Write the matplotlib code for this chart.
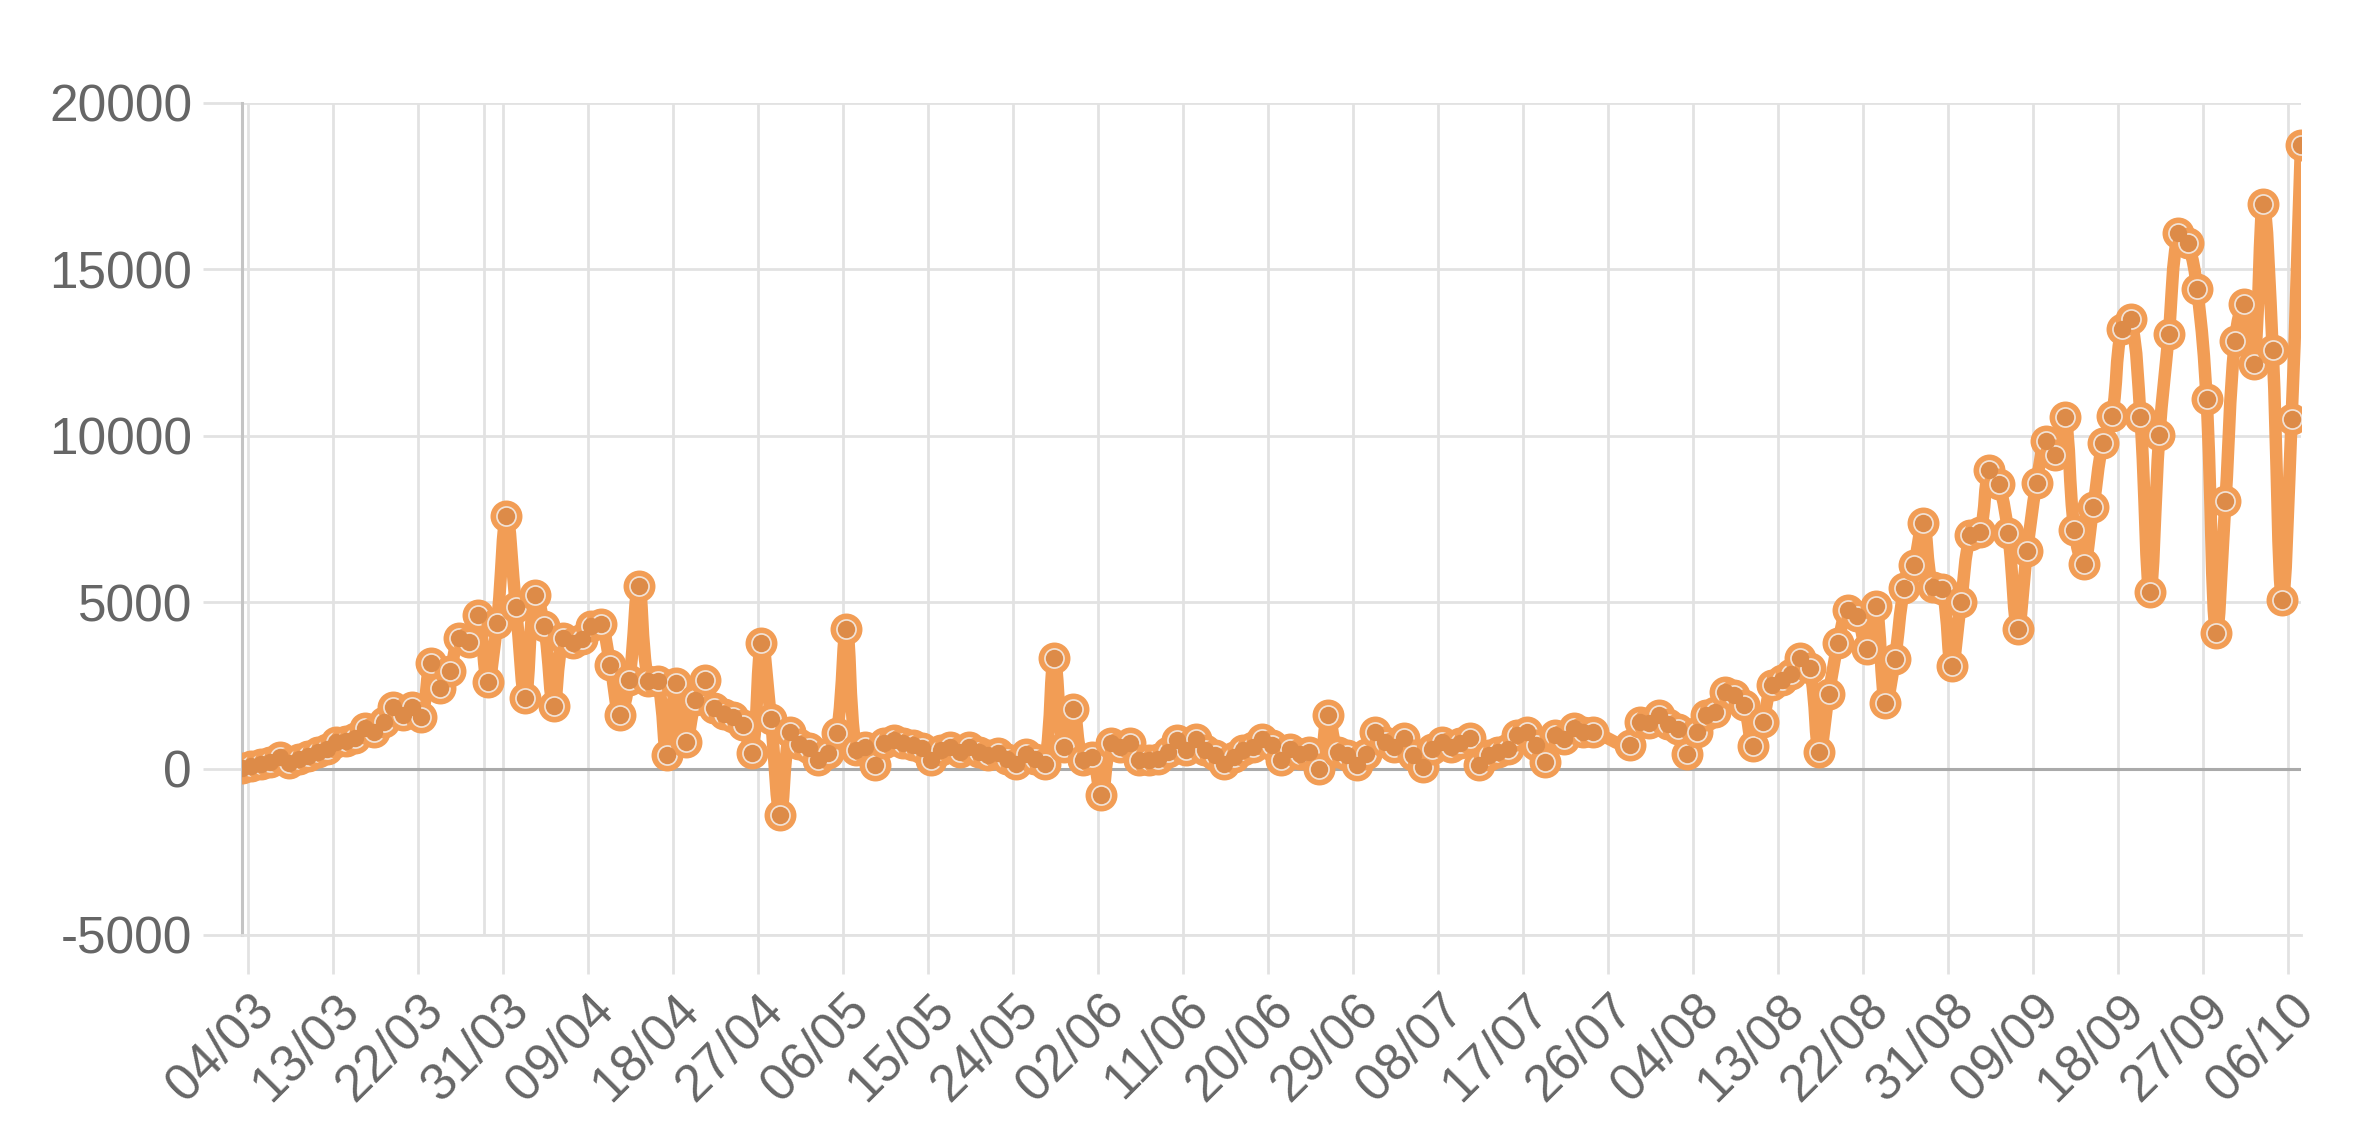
import matplotlib
matplotlib.use("Agg")
import matplotlib.pyplot as plt
import matplotlib.dates as mdates
from matplotlib.path import Path
from matplotlib.patches import PathPatch
import pandas as pd
import numpy as np

# daily values, 03/03 -> 07/10 (None = no point that day)
mar = [20, 70, 140, 190, 340, 180, 290, 370, 500, 600,
       790, 840, 920, 1210, 1100, 1400, 1860, 1620, 1850, 1560,
       3180, 2430, 2930, 3920, 3810, 4610, 2600, 4380, 7580]
apr = [4860, 2120, 5230, 4270, 1870, 3910, 3780, 3880, 4290, 4340,
       3110, 1610, 2670, 5500, 2630, 2640, 405, 2570, 785, 2050,
       2670, 1830, 1650, 1540, 1300, 470, 3780, 1480, -1400, 1100]
may = [750, 620, 260, 460, 1070, 4200, 560, 660, 100, 760,
       870, 760, 710, 610, 250, 560, 660, 500, 640, 500,
       420, 480, 300, 150, 450, 300, 150, 3320, 650, 1790, 250]
jun = [350, -800, 760, 660, 760, 250, 260, 300, 500, 870,
       560, 900, 560, 400, 150, 350, 560, 650, 900, 700,
       250, 600, 450, 500, 0, 1620, 500, 400, 100, 450]
jul = [1110, 810, 650, 910, 400, 50, 600, 810, 650, 760,
       910, 100, 400, 500, 600, 1010, 1110, 700, 200, 1010,
       900, 1210, 1100, 1110, None, None, None, 700, 1400, 1380, 1600]
aug = [1350, 1200, 440, 1100, 1600, 1700, 2310, 2200, 1900, 690,
       1400, 2515, 2670, 2850, 3310, 3020, 490, 2240, 3780, 4770,
       4590, 3600, 4900, 1960, 3300, 5430, 6110, 7380, 5450, 5410, 3080]
sep = [5000, 7020, 7100, 8980, 8550, 7070, 4200, 6550, 8580, 9840,
       9410, 10560, 7180, 6160, 7850, 9780, 10590, 13220, 13500, 10570,
       5300, 10010, 13070, 16100, 15800, 14410, 11120, 4070, 8050, 12850]
oct_ = [13970, 12150, 16970, 12570, 5080, 10490, 18750]

yticks = [-5000, 0, 5000, 10000, 15000, 20000]

values = mar + apr + may + jun + jul + aug + sep + oct_
days = pd.date_range("2020-03-03", periods=len(values), freq="D")
df = pd.DataFrame({"date": days, "cases": values}).dropna()
# points sit a few hours after the midnight gridlines
df["x"] = mdates.date2num(df["date"]) + 8 / 24

orange = "#f29d55"
grey_txt = "#666666"

plt.rcParams["font.family"] = ["Liberation Sans", "DejaVu Sans"]
fig = plt.figure(figsize=(23.61, 11.26), dpi=100)
ax = fig.add_axes([242 / 2361, 1 - 935 / 1126, (2301 - 242) / 2361, (935 - 103) / 1126])

ax.set_xlim(df["x"].iloc[0], df["x"].iloc[-1])
ax.set_ylim(-5000, 20000)


def smooth_path(ax, xs, ys, tension=0.4):
    # bezier through the points, control points like chart.js splineCurve (in pixels)
    pts = ax.transData.transform(np.column_stack([xs, ys]))
    n = len(pts)
    verts = [pts[0]]
    codes = [Path.MOVETO]
    ctrl_prev = np.zeros_like(pts)
    ctrl_next = np.zeros_like(pts)
    for i in range(n):
        p0 = pts[max(i - 1, 0)]
        p1 = pts[i]
        p2 = pts[min(i + 1, n - 1)]
        d01 = np.hypot(*(p1 - p0))
        d12 = np.hypot(*(p2 - p1))
        tot = d01 + d12
        s01 = d01 / tot if tot else 0
        s12 = d12 / tot if tot else 0
        ctrl_prev[i] = p1 - tension * s01 * (p2 - p0)
        ctrl_next[i] = p1 + tension * s12 * (p2 - p0)
    for i in range(1, n):
        verts += [ctrl_next[i - 1], ctrl_prev[i], pts[i]]
        codes += [Path.CURVE4] * 3
    verts = ax.transData.inverted().transform(np.array(verts))
    return Path(verts, codes)


line = PathPatch(smooth_path(ax, df["x"].values, df["cases"].values), fill=False,
                 edgecolor=orange, lw=9, zorder=3, joinstyle="round", capstyle="round")
ax.add_patch(line)
ax.plot(df["x"], df["cases"], "o", ms=19, mfc="#f1e2d6", mec=orange, mew=4, zorder=4)
ax.plot(df["x"], df["cases"], "o", ms=12.5, color="#dd8b48", mew=0, zorder=5)

ax.set_yticks(yticks)
ax.set_yticklabels([str(v) for v in yticks])

ticks = pd.date_range("2020-03-04", "2020-10-06", freq="9D")
ax.set_xticks(mdates.date2num(ticks))
ax.set_xticklabels([d.strftime("%d/%m") for d in ticks], rotation=45,
                   ha="right", va="top", rotation_mode="anchor")
ax.set_xticks([mdates.date2num(pd.Timestamp("2020-03-29"))], minor=True)

ax.grid(True, which="both", color="#e2e2e2", lw=2)
ax.set_axisbelow(True)
ax.axhline(0, color="#aaaaaa", lw=2.2, zorder=1)

ax.tick_params(axis="both", which="both", length=28, width=2, color="#e2e2e2",
               labelsize=37, labelcolor=grey_txt, pad=8)
ax.tick_params(axis="x", which="minor", length=0)

for s in ["top", "right"]:
    ax.spines[s].set_visible(False)
ax.spines["left"].set_color("#c4c4c4")
ax.spines["left"].set_linewidth(2.2)
ax.spines["bottom"].set_color("#e2e2e2")
ax.spines["bottom"].set_linewidth(2)

fig.savefig("out.png", dpi=100, facecolor="white")
